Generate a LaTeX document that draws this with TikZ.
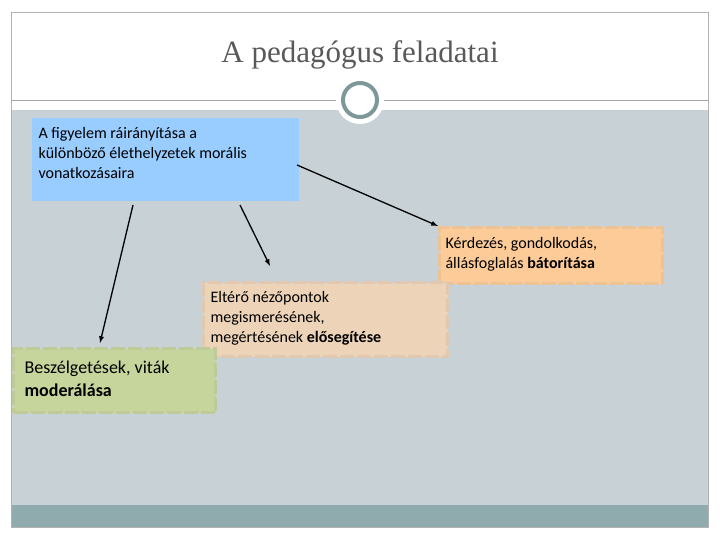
\documentclass[tikz,border=0pt]{standalone}
\usepackage{fontspec}
\setmainfont{Carlito}
\newfontfamily\titlefont{Liberation Serif}
\definecolor{bg}{HTML}{C7D1D6}
\definecolor{band}{HTML}{8FABAD}
\definecolor{blueb}{HTML}{99CCFF}
\definecolor{orb}{HTML}{FCCB98}
\definecolor{tanb}{HTML}{EDD3B7}
\definecolor{grb}{HTML}{C6D59B}
\definecolor{ring}{HTML}{7E9899}
\tikzset{box/.style={draw=#1!88!gray,line width=3pt,dash pattern=on 14pt off 3pt,fill=#1,anchor=north west,align=left,inner sep=0pt},
txt/.style={anchor=west,align=left,font=\fontsize{16}{20}\selectfont},
arr/.style={-latex,line width=1.3pt}}
\begin{document}
\begin{tikzpicture}[x=1pt,y=-1pt]
\useasboundingbox (0,0) rectangle (720,540);
\fill[white] (0,0) rectangle (720,540);
\fill[bg] (11,110) rectangle (708,505);
\fill[band] (11,505) rectangle (708,527);
\draw[gray!60] (11,12) rectangle (708,527);
\draw[gray!70,line width=1pt] (11,101) -- (708,101);
\node[font=\titlefont\fontsize{31}{33}\selectfont,text=gray!70!black] (title) at (360,55) {A pedagógus feladatai};
\fill[white] (360,100) circle (24);
\node[circle,draw=ring,line width=4pt,fill=white,minimum size=34pt,inner sep=0pt] (ring) at (360,100) {};
\node[box=blueb,draw=none,minimum width=267pt,minimum height=83pt] (a) at (30,117) {};
\node[anchor=north west,align=left,font=\fontsize{16}{20}\selectfont] (at) at (35,124) {A figyelem ráirányítása a\\különböző élethelyzetek morális\\vonatkozásaira};
\node[box=orb,minimum width=223pt,minimum height=56pt] (b) at (438,226) {};
\node[txt] (bt) at (442,254) {Kérdezés, gondolkodás,\\állásfoglalás \textbf{bátorítása}};
\node[box=tanb,minimum width=244pt,minimum height=74pt] (c) at (202,281) {};
\node[txt] (ct) at (207,318) {Eltérő nézőpontok\\megismerésének,\\megértésének \textbf{elősegítése}};
\node[box=grb,minimum width=202pt,minimum height=64pt] (d) at (12,347) {};
\node[txt,font=\fontsize{18}{23}\selectfont] (dt) at (21,379) {Beszélgetések, viták\\\textbf{moderálása}};
\coordinate (a1) at (297,165);
\coordinate (a2) at (240,205);
\coordinate (a3) at (133,205);
\coordinate (c1) at (270,266);
\coordinate (d1) at (100,343);
\draw[arr] (a1) -- (b.north west);
\draw[arr] (a2) -- (c1);
\draw[arr] (a3) -- (d1);
\end{tikzpicture}
\end{document}
